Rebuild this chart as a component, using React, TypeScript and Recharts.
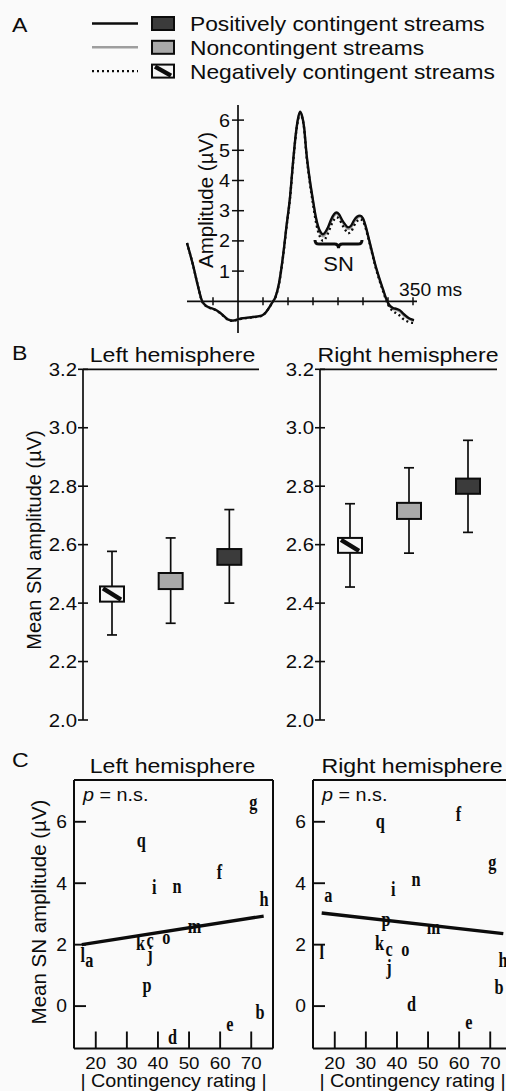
import React from "react";
import {
  LineChart,
  Line,
  XAxis,
  YAxis,
  ReferenceLine,
  ReferenceDot,
  ReferenceArea,
  ComposedChart,
  Bar,
  ScatterChart,
  Scatter,
} from "recharts";

const FONT = "'Liberation Sans', Arial, Helvetica, sans-serif";
const SERIF = "'Liberation Serif', 'Times New Roman', serif";
const INK = "#0c0c0c";
// the source figure is stretched a little horizontally
const SX = 1.1;

// ---- A: grand average waveforms (ms, µV) ----
const erpTime = [
  -102, -90, -80, -72, -62, -53, -45, -36, -28, -20, -10, 0, 10, 20, 30, 40, 48, 55, 62, 68, 75, 82, 90, 97,
  104, 110, 116, 120, 124, 128, 132, 137, 143, 150, 155, 160, 165, 170, 175, 180, 186, 192, 197, 202, 208,
  214, 220, 226, 232, 238, 244, 250, 256, 262, 268, 274, 282, 290, 298, 304, 310, 317, 324, 330, 337, 344, 352,
];
const erpPositive = [
  1.93, 1.2, 0.5, 0.02, -0.17, -0.23, -0.28, -0.38, -0.49, -0.6, -0.64, -0.6, -0.56, -0.54, -0.52, -0.5, -0.47,
  -0.38, -0.22, -0.05, 0.15, 0.6, 1.5, 2.5, 3.45, 4.6, 5.6, 6.05, 6.28, 6.15, 5.8, 4.9, 4.1, 3.35, 2.85, 2.5,
  2.3, 2.22, 2.3, 2.45, 2.7, 2.88, 2.94, 2.88, 2.7, 2.55, 2.45, 2.5, 2.68, 2.8, 2.84, 2.75, 2.45, 2.05, 1.65,
  1.25, 0.8, 0.4, 0.02, -0.15, -0.22, -0.25, -0.3, -0.4, -0.5, -0.58, -0.62,
];
const erpNoncontingent = [
  1.93, 1.2, 0.5, 0.0, -0.18, -0.23, -0.28, -0.38, -0.5, -0.6, -0.64, -0.6, -0.56, -0.54, -0.52, -0.5, -0.47,
  -0.38, -0.22, -0.05, 0.14, 0.58, 1.48, 2.48, 3.42, 4.57, 5.57, 6.02, 6.25, 6.12, 5.77, 4.86, 4.05, 3.3, 2.8,
  2.44, 2.23, 2.15, 2.24, 2.4, 2.64, 2.83, 2.9, 2.84, 2.65, 2.5, 2.4, 2.45, 2.63, 2.76, 2.8, 2.72, 2.42, 2.02,
  1.62, 1.22, 0.77, 0.37, 0.0, -0.17, -0.25, -0.28, -0.34, -0.44, -0.53, -0.6, -0.64,
];
const erpNegative = [
  1.93, 1.2, 0.5, 0.0, -0.18, -0.24, -0.29, -0.39, -0.5, -0.61, -0.65, -0.61, -0.57, -0.55, -0.53, -0.51, -0.48,
  -0.38, -0.22, -0.06, 0.13, 0.57, 1.46, 2.45, 3.4, 4.55, 5.55, 6.0, 6.22, 6.1, 5.74, 4.82, 4.0, 3.22, 2.7,
  2.32, 2.1, 2.0, 2.08, 2.25, 2.5, 2.7, 2.78, 2.74, 2.55, 2.38, 2.25, 2.3, 2.5, 2.65, 2.72, 2.65, 2.38, 2.0,
  1.6, 1.2, 0.74, 0.34, -0.04, -0.22, -0.33, -0.4, -0.48, -0.58, -0.65, -0.7, -0.72,
];
const erpTimeTicks = [-50, 50, 100, 150, 200, 250, 300, 350];
const erpAmpTicks = [1, 2, 3, 4, 5, 6];

// ---- B: mean SN amplitude per condition ----
const conditionKeys = ["neg", "non", "pos"];
const conditionNames = ["Negatively contingent streams", "Noncontingent streams", "Positively contingent streams"];
const leftBoxLow = [2.405, 2.448, 2.531];
const leftBoxHigh = [2.457, 2.503, 2.585];
const leftWhiskerLow = [2.291, 2.331, 2.4];
const leftWhiskerHigh = [2.577, 2.623, 2.72];
const rightBoxLow = [2.572, 2.688, 2.774];
const rightBoxHigh = [2.623, 2.743, 2.826];
const rightWhiskerLow = [2.455, 2.571, 2.642];
const rightWhiskerHigh = [2.74, 2.863, 2.957];
const meanTicks = [2.0, 2.2, 2.4, 2.6, 2.8, 3.0, 3.2];

// ---- C: per-participant SN amplitude vs |contingency rating| ----
const participants = ["a", "b", "c", "d", "e", "f", "g", "h", "i", "j", "k", "l", "m", "n", "o", "p", "q"];
const ratings = [17.9, 72.8, 37.5, 44.7, 63.1, 59.8, 70.7, 74.1, 38.8, 37.4, 34.4, 15.8, 51.8, 46.1, 42.7, 36.5, 34.6];
const leftAmps = [1.5, -0.18, 2.15, -1.0, -0.56, 4.37, 6.64, 3.5, 3.88, 1.71, 2.06, 1.66, 2.61, 3.93, 2.25, 0.68, 5.4];
const rightAmps = [3.61, 0.63, 1.88, 0.09, -0.51, 6.27, 4.69, 1.5, 3.83, 1.28, 2.06, 1.77, 2.58, 4.15, 1.88, 2.85, 6.05];
const leftFitX = [15.5, 74];
const leftFitY = [2.0, 2.93];
const rightFitX = [15.8, 74.2];
const rightFitY = [3.03, 2.36];
const ratingTicks = [20, 30, 40, 50, 60, 70];
const scatterAmpTicks = [0, 2, 4, 6];
const RATING_DOMAIN = [13, 77];
const SCATTER_AMP_DOMAIN = [-1.38, 7.36];

const condStyle: Record<string, { stroke: string; width: number; dash?: string; fill: string }> = {
  pos: { stroke: INK, width: 2.3, fill: "#3b3b3b" },
  non: { stroke: "#9e9e9e", width: 2.4, fill: "#a9a9a9" },
  neg: { stroke: INK, width: 2.3, dash: "2 3", fill: "#f6f6f6" },
};

function T({ x, y, size, anchor = "start", dy, children, weight }: any) {
  return (
    <text
      transform={`translate(${x},${y}) scale(${SX},1)`}
      fontSize={size}
      fontFamily={FONT}
      fontWeight={weight}
      textAnchor={anchor}
      dy={dy}
      fill={INK}
    >
      {children}
    </text>
  );
}

function HatchedBox({ x, y, w, h }: any) {
  return (
    <g>
      <rect x={x} y={y} width={w} height={h} fill={condStyle.neg.fill} />
      <line x1={x + 3} y1={y + 2} x2={x + w - 3} y2={y + h - 2} stroke={INK} strokeWidth={4.5} />
      <rect x={x} y={y} width={w} height={h} fill="none" stroke={INK} strokeWidth={2} />
    </g>
  );
}

function SwatchBox({ k, x, y, w, h }: any) {
  if (k === "neg") return <HatchedBox x={x} y={y} w={w} h={h} />;
  return <rect x={x} y={y} width={w} height={h} fill={condStyle[k].fill} stroke={INK} strokeWidth={2} />;
}

// ---------- panel A ----------
function TimeTick({ cx, cy, last }: any) {
  return (
    <g>
      <line x1={cx} x2={cx} y1={cy - 4} y2={cy + 4} stroke={INK} strokeWidth={1.5} />
      {last && (
        <T x={cx - 14} y={cy - 5} size={17.5}>
          350 ms
        </T>
      )}
    </g>
  );
}

function AmpTick({ cx, cy, value }: any) {
  return (
    <g>
      <line x1={cx - 6} x2={cx + 6} y1={cy} y2={cy} stroke={INK} strokeWidth={1.5} />
      <T x={cx - 8} y={cy} size={18} anchor="end" dy="0.36em">
        {value}
      </T>
    </g>
  );
}

function Brace({ x, y, width, height }: any) {
  const m = x + width / 2;
  const r = height / 2;
  const d =
    `M${x},${y} Q${x},${y + r} ${x + r},${y + r} L${m - r},${y + r} Q${m},${y + r} ${m},${y + height} ` +
    `Q${m},${y + r} ${m + r},${y + r} L${x + width - r},${y + r} Q${x + width},${y + r} ${x + width},${y}`;
  return (
    <g>
      <path d={d} fill="none" stroke={INK} strokeWidth={3} />
      <T x={m} y={y + height + 23} size={20} anchor="middle">
        SN
      </T>
    </g>
  );
}

function ErpChart() {
  const data = erpTime.map((t, i) => ({
    t,
    pos: erpPositive[i],
    non: erpNoncontingent[i],
    neg: erpNegative[i],
  }));
  return (
    <LineChart width={330} height={262} data={data} margin={{ top: 20, right: 63, bottom: 14, left: 37 }}>
      <XAxis type="number" dataKey="t" domain={[-102, 358]} hide />
      <YAxis type="number" domain={[-1.05, 6.5]} hide />
      <ReferenceLine x={0} stroke={INK} strokeWidth={1.7} />
      <ReferenceLine y={0} stroke={INK} strokeWidth={1.7} />
      {erpTimeTicks.map((t) => (
        <ReferenceDot key={`t${t}`} x={t} y={0} r={0} shape={(p: any) => <TimeTick {...p} last={t === 350} />} />
      ))}
      {erpAmpTicks.map((v) => (
        <ReferenceDot key={`a${v}`} x={0} y={v} r={0} shape={(p: any) => <AmpTick {...p} value={v} />} />
      ))}
      <ReferenceArea x1={154} x2={248} y1={1.76} y2={2.03} shape={(p: any) => <Brace {...p} />} />
      <Line type="monotone" dataKey="non" stroke={condStyle.non.stroke} strokeWidth={condStyle.non.width} dot={false} isAnimationActive={false} />
      <Line type="monotone" dataKey="neg" stroke={condStyle.neg.stroke} strokeWidth={condStyle.neg.width} strokeDasharray={condStyle.neg.dash} dot={false} isAnimationActive={false} />
      <Line type="monotone" dataKey="pos" stroke={condStyle.pos.stroke} strokeWidth={condStyle.pos.width} dot={false} isAnimationActive={false} />
    </LineChart>
  );
}

// ---------- panel B ----------
function MeanTick({ x, y, payload }: any) {
  return (
    <g>
      <line x1={x - 5} x2={x + 5} y1={y} y2={y} stroke={INK} strokeWidth={1.6} />
      <T x={x - 6} y={y} size={18.5} anchor="end" dy="0.36em">
        {Number(payload.value).toFixed(1)}
      </T>
    </g>
  );
}

function BoxWhisker(p: any) {
  const { x, y, width, height, payload } = p;
  const [wLo, wHi] = payload.whisker;
  const [bLo, bHi] = payload.box;
  const top = Math.min(y, y + height);
  const bot = Math.max(y, y + height);
  const ppu = (bot - top) / (wHi - wLo);
  const yOf = (v: number) => top + (wHi - v) * ppu;
  const cx = x + width / 2;
  const bt = yOf(bHi);
  const bb = yOf(bLo);
  return (
    <g>
      <line x1={cx} x2={cx} y1={top} y2={bot} stroke={INK} strokeWidth={1.7} />
      <line x1={cx - 5} x2={cx + 5} y1={top} y2={top} stroke={INK} strokeWidth={1.7} />
      <line x1={cx - 5} x2={cx + 5} y1={bot} y2={bot} stroke={INK} strokeWidth={1.7} />
      <SwatchBox k={payload.key} x={x} y={bt} w={width} h={bb - bt} />
    </g>
  );
}

function MeansChart({ boxLow, boxHigh, whiskerLow, whiskerHigh, width, marginLeft, marginRight }: any) {
  const data = conditionKeys.map((k, i) => ({
    cond: conditionNames[i],
    key: k,
    whisker: [whiskerLow[i], whiskerHigh[i]],
    box: [boxLow[i], boxHigh[i]],
  }));
  return (
    <ComposedChart width={width} height={395} data={data} margin={{ top: 34.3, right: marginRight, bottom: 10, left: marginLeft }}>
      <XAxis dataKey="cond" hide />
      <YAxis
        type="number"
        domain={[2.0, 3.2]}
        ticks={meanTicks}
        interval={0}
        width={50}
        axisLine={{ stroke: INK, strokeWidth: 1.7 }}
        tickLine={false}
        tickSize={0}
        tickMargin={0}
        tick={<MeanTick />}
      />
      <ReferenceLine y={3.2} stroke={INK} strokeWidth={1.7} />
      <Bar dataKey="whisker" barSize={24} shape={(p: any) => <BoxWhisker {...p} />} isAnimationActive={false} />
    </ComposedChart>
  );
}

// ---------- panel C ----------
function RatingTick({ x, y, payload }: any) {
  return (
    <g>
      <line x1={x} x2={x} y1={y} y2={y - 17} stroke={INK} strokeWidth={1.9} />
      <T x={x} y={y + 20} size={17} anchor="middle">
        {payload.value}
      </T>
    </g>
  );
}

function ScatterAmpTick({ x, y, payload }: any) {
  return (
    <g>
      <line x1={x} x2={x + 12} y1={y} y2={y} stroke={INK} strokeWidth={1.9} />
      <T x={x - 7} y={y} size={17.5} anchor="end" dy="0.36em">
        {payload.value}
      </T>
    </g>
  );
}

function LetterShape({ cx, cy, payload }: any) {
  return (
    <text
      transform={`translate(${cx},${cy}) scale(0.74,1)`}
      textAnchor="middle"
      dy="0.33em"
      fontFamily={SERIF}
      fontWeight="bold"
      fontSize={22}
      fill={INK}
    >
      {payload.label}
    </text>
  );
}

function ScatterPanel({ amps, fitX, fitY, width, yWidth, marginLeft, marginRight }: any) {
  const pts = participants.map((label, i) => ({ r: ratings[i], a: amps[i], label }));
  const fit = fitX.map((r: number, i: number) => ({ r, a: fitY[i] }));
  return (
    <ScatterChart width={width} height={351} margin={{ top: 40, right: marginRight, bottom: 12.5, left: marginLeft }}>
      <XAxis
        type="number"
        dataKey="r"
        domain={RATING_DOMAIN}
        ticks={ratingTicks}
        interval={0}
        height={30}
        axisLine={{ stroke: INK, strokeWidth: 2 }}
        tickLine={false}
        tickSize={0}
        tickMargin={0}
        tick={<RatingTick />}
      />
      <YAxis
        type="number"
        dataKey="a"
        domain={SCATTER_AMP_DOMAIN}
        ticks={scatterAmpTicks}
        interval={0}
        width={yWidth}
        axisLine={{ stroke: INK, strokeWidth: 2 }}
        tickLine={false}
        tickSize={0}
        tickMargin={0}
        tick={<ScatterAmpTick />}
      />
      <ReferenceLine y={SCATTER_AMP_DOMAIN[1]} stroke={INK} strokeWidth={2} ifOverflow="visible" />
      <ReferenceLine x={RATING_DOMAIN[1]} stroke={INK} strokeWidth={2} ifOverflow="visible" />
      <Scatter data={fit} line={{ stroke: INK, strokeWidth: 3.4 }} shape={() => <g />} isAnimationActive={false} />
      <Scatter data={pts} shape={(p: any) => <LetterShape {...p} />} isAnimationActive={false} />
    </ScatterChart>
  );
}

function Overlay() {
  const legendOrder = [...conditionKeys].reverse();
  return (
    <svg width={506} height={1091} style={{ position: "absolute", left: 0, top: 0, pointerEvents: "none" }}>
      <T x={12} y={32} size={21}>A</T>
      {legendOrder.map((k, i) => {
        const yl = 23.5 + i * 23.8;
        const st = condStyle[k];
        return (
          <g key={k}>
            <line x1={92} x2={138} y1={yl} y2={yl} stroke={st.stroke} strokeWidth={st.width} strokeDasharray={st.dash} />
            <SwatchBox k={k} x={152} y={yl - 6.5} w={22} h={13} />
            <T x={190} y={yl + 7.5} size={20.7}>
              {conditionNames[conditionKeys.indexOf(k)]}
            </T>
          </g>
        );
      })}
      <text transform="translate(213,200) rotate(-90)" textAnchor="middle" fontSize={20.5} fontFamily={FONT} fill={INK}>
        Amplitude (µV)
      </text>

      <T x={12} y={360} size={21}>B</T>
      <T x={172.5} y={362} size={21} anchor="middle">Left hemisphere</T>
      <T x={408} y={362} size={21} anchor="middle">Right hemisphere</T>
      <text transform="translate(41,540) rotate(-90)" textAnchor="middle" fontSize={20} fontFamily={FONT} fill={INK}>
        Mean SN amplitude (µV)
      </text>

      <T x={12} y={767} size={21}>C</T>
      <T x={172.5} y={773} size={21} anchor="middle">Left hemisphere</T>
      <T x={412} y={773} size={21} anchor="middle">Right hemisphere</T>
      <text transform="translate(46,912) rotate(-90)" textAnchor="middle" fontSize={20.5} fontFamily={FONT} fill={INK}>
        Mean SN amplitude (µV)
      </text>
      {[83, 322].map((x) => (
        <T key={x} x={x} y={801} size={18}>
          <tspan fontStyle="italic">p</tspan> = n.s.
        </T>
      ))}
      {[173.5, 412.5].map((x) => (
        <T key={x} x={x} y={1086.5} size={18} anchor="middle">
          | Contingency rating |
        </T>
      ))}
    </svg>
  );
}

export default function App() {
  return (
    <div
      style={{
        position: "absolute",
        left: 0,
        top: 0,
        width: 506,
        height: 1091,
        overflow: "hidden",
        background: "#fafafa",
        fontFamily: FONT,
      }}
    >
      <div style={{ position: "absolute", left: 150, top: 85 }}>
        <ErpChart />
      </div>
      <div style={{ position: "absolute", left: 0, top: 335 }}>
        <MeansChart
          boxLow={leftBoxLow}
          boxHigh={leftBoxHigh}
          whiskerLow={leftWhiskerLow}
          whiskerHigh={leftWhiskerHigh}
          width={262}
          marginLeft={33}
          marginRight={3}
        />
      </div>
      <div style={{ position: "absolute", left: 262, top: 335 }}>
        <MeansChart
          boxLow={rightBoxLow}
          boxHigh={rightBoxHigh}
          whiskerLow={rightWhiskerLow}
          whiskerHigh={rightWhiskerHigh}
          width={244}
          marginLeft={8}
          marginRight={9}
        />
      </div>
      <div style={{ position: "absolute", left: 0, top: 740 }}>
        <ScatterPanel amps={leftAmps} fitX={leftFitX} fitY={leftFitY} width={280} yWidth={40} marginLeft={34} marginRight={7} />
      </div>
      <div style={{ position: "absolute", left: 280, top: 740 }}>
        <ScatterPanel amps={rightAmps} fitX={rightFitX} fitY={rightFitY} width={240} yWidth={30} marginLeft={3} marginRight={8} />
      </div>
      <Overlay />
    </div>
  );
}
